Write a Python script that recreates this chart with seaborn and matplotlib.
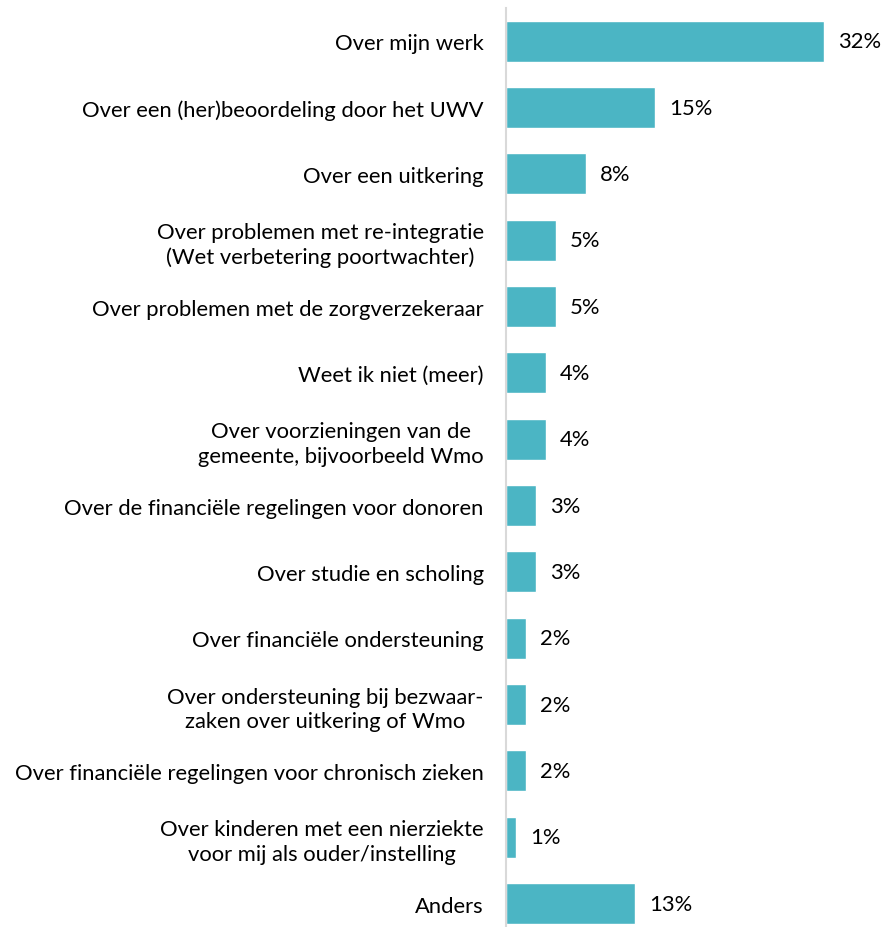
import matplotlib
matplotlib.use("Agg")
import matplotlib.pyplot as plt
import seaborn as sns
import pandas as pd

categories = [
    "Over mijn werk",
    "Over een (her)beoordeling door het UWV",
    "Over een uitkering",
    "Over problemen met re-integratie\n(Wet verbetering poortwachter)",
    "Over problemen met de zorgverzekeraar",
    "Weet ik niet (meer)",
    "Over voorzieningen van de\ngemeente, bijvoorbeeld Wmo",
    "Over de financiële regelingen voor donoren",
    "Over studie en scholing",
    "Over financiële ondersteuning",
    "Over ondersteuning bij bezwaar-\nzaken over uitkering of Wmo",
    "Over financiële regelingen voor chronisch zieken",
    "Over kinderen met een nierziekte\nvoor mij als ouder/instelling",
    "Anders",
]
percentages = [32, 15, 8, 5, 5, 4, 4, 3, 3, 2, 2, 2, 1, 13]

df = pd.DataFrame({"categorie": categories, "pct": percentages})

sns.set_theme(style="white")
plt.rcParams["font.family"] = ["Lato", "DejaVu Sans"]

FS = 15.8

fig = plt.figure(figsize=(8.84, 9.28), dpi=100)
ax = fig.add_axes([506 / 884, 0.0, (884 - 506) / 884, 919 / 928])

sns.barplot(data=df, x="pct", y="categorie", orient="h", color="#4BB5C4",
            saturation=1, width=0.62, ax=ax)

ax.set_xlim(0, 38.0)
ax.set_ylim(13.354, -0.5)
ax.set_xlabel("")
ax.set_ylabel("")
ax.set_xticks([])
ax.tick_params(axis="y", length=0, pad=16, labelsize=FS, labelcolor="black")
for lbl in ax.get_yticklabels():
    lbl.set_multialignment("center")
    lbl.set_linespacing(1.3)

for side in ["top", "right", "bottom"]:
    ax.spines[side].set_visible(False)
ax.spines["left"].set_color("#D9D9D9")
ax.spines["left"].set_linewidth(1.5)

for container in ax.containers:
    ax.bar_label(container, labels=[f"{v}%" for v in percentages],
                 padding=10, fontsize=FS, color="black")

fig.savefig("out.png", dpi=100)
